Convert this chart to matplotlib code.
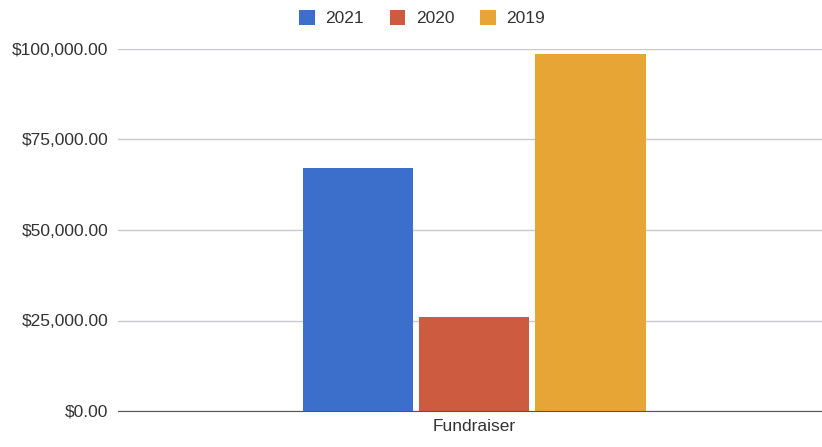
import matplotlib.pyplot as plt
import numpy as np

# data
category = ['Fundraiser']
years = ['2021', '2020', '2019']
amounts = [67000, 26000, 98500]
colors = ['#3c6fcc', '#cc5b3f', '#e6a534']
yticks = [0, 25000, 50000, 75000, 100000]

plt.rcParams['font.family'] = ['Liberation Sans', 'DejaVu Sans']

fig = plt.figure(figsize=(8.22, 4.47), dpi=100)
ax = fig.add_axes([118/822, 1-411/447, 1-118/822, (411-49)/447])

w = 0.157
step = 0.165
x0 = 0.006
offsets = np.array([-1, 0, 1]) * step
for i in range(len(years)):
    ax.bar(x0 + offsets[i], amounts[i], width=w, color=colors[i],
           label=years[i], zorder=3)

ax.set_xlim(-0.5, 0.5)
ax.set_ylim(0, 100000)
ax.set_yticks(yticks)
ax.set_yticklabels(['${:,.2f}'.format(v) for v in yticks])
ax.set_xticks([x0])
ax.set_xticklabels(category)
ax.tick_params(axis='both', length=0, labelsize=12.5, colors='#333333')
ax.tick_params(axis='y', pad=7)
ax.tick_params(axis='x', pad=6)
ax.yaxis.grid(True, color='#c8c8d0', linewidth=1, zorder=0)
for s in ['top', 'right', 'left']:
    ax.spines[s].set_visible(False)
ax.spines['bottom'].set_color('#555555')
ax.spines['bottom'].set_zorder(4)

fig.legend(loc='upper center', bbox_to_anchor=(422/822, 1.012), ncol=3,
           frameon=False, fontsize=12.5, handlelength=0.9, handleheight=0.9,
           columnspacing=1.5, handletextpad=0.6, labelcolor='#333333')

fig.savefig('out.png', dpi=100)
